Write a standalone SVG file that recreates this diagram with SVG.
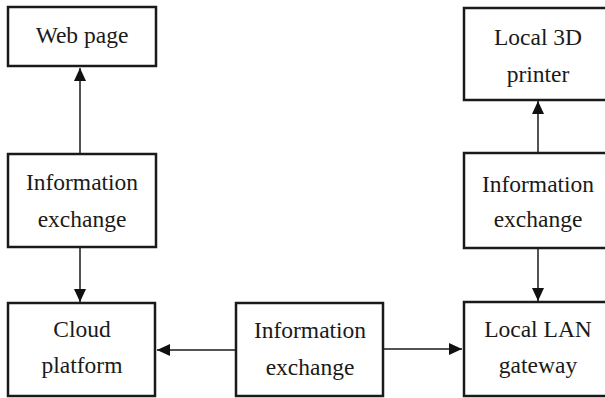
<svg xmlns="http://www.w3.org/2000/svg" width="605" height="398" viewBox="0 0 605 398">
<style>
.box{fill:#fff;stroke:#1a1a1a;stroke-width:2.5}
.t{font-family:"Liberation Serif","Times New Roman",serif;font-size:23.5px;fill:#1a1a1a;text-anchor:middle}
.c{stroke:#1a1a1a;stroke-width:1.5;fill:none;marker-end:url(#ah)}
</style>
<defs>
<marker id="ah" markerUnits="userSpaceOnUse" markerWidth="13" markerHeight="12" refX="13" refY="6" orient="auto">
<path d="M0,0 L13,6 L0,12 z" fill="#111"/>
</marker>
</defs>
<rect width="605" height="398" fill="#fff"/>
<g id="connectors">
<line class="c" x1="80" y1="154" x2="80" y2="68"/>
<line class="c" x1="80" y1="247" x2="80" y2="302"/>
<line class="c" x1="236" y1="350" x2="157" y2="350"/>
<line class="c" x1="383" y1="349" x2="462" y2="349"/>
<line class="c" x1="538" y1="153" x2="538" y2="101"/>
<line class="c" x1="538" y1="248" x2="538" y2="301"/>
</g>
<g id="web-page">
<rect class="box" x="8" y="7" width="148" height="59"/>
<text class="t" x="82" y="43">Web page</text>
</g>
<g id="info-left">
<rect class="box" x="8" y="154" width="148" height="93"/>
<text class="t" x="82" y="190">Information</text>
<text class="t" x="82" y="227">exchange</text>
</g>
<g id="cloud-platform">
<rect class="box" x="8" y="303" width="147" height="93"/>
<text class="t" x="82" y="337">Cloud</text>
<text class="t" x="82" y="373">platform</text>
</g>
<g id="info-middle">
<rect class="box" x="236" y="303" width="147" height="93"/>
<text class="t" x="310" y="338">Information</text>
<text class="t" x="310" y="375">exchange</text>
</g>
<g id="local-3d-printer">
<rect class="box" x="464" y="8" width="150" height="92"/>
<text class="t" x="538" y="45">Local 3D</text>
<text class="t" x="538" y="82">printer</text>
</g>
<g id="info-right">
<rect class="box" x="464" y="153" width="150" height="95"/>
<text class="t" x="538" y="192">Information</text>
<text class="t" x="538" y="227">exchange</text>
</g>
<g id="local-lan-gateway">
<rect class="box" x="464" y="302" width="150" height="94"/>
<text class="t" x="538" y="337">Local LAN</text>
<text class="t" x="538" y="373">gateway</text>
</g>
</svg>
